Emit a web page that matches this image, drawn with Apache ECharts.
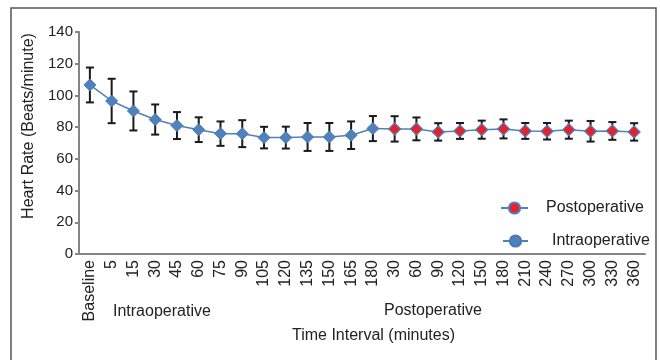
<!DOCTYPE html>
<html>
<head>
<meta charset="utf-8">
<script src="https://cdn.jsdelivr.net/npm/echarts@6/dist/echarts.min.js"></script>
<style>
  html, body { margin: 0; padding: 0; background: #fff; }
  #chart { width: 660px; height: 360px; }
</style>
</head>
<body>
<div id="chart"></div>
<script>
// x categories: intraoperative minutes, then postoperative minutes
const categories = ['Baseline', '5', '15', '30', '45', '60', '75', '90', '105', '120', '135', '150', '165', '180',
  '30', '60', '90', '120', '150', '180', '210', '240', '270', '300', '330', '360'];

// mean heart rate and SD
const intraMean = [106.6, 96.5, 90.2, 84.8, 81, 78.4, 75.9, 75.9, 73.4, 73.4, 73.8, 73.8, 74.9, 79.1];
const intraSd = [11, 14, 12.3, 9.5, 8.5, 7.8, 7.7, 8.5, 6.8, 6.9, 8.8, 8.8, 8.7, 7.9];
const postMean = [78.9, 78.9, 77, 77.6, 78.4, 78.9, 77.6, 77.4, 78.4, 77.4, 77.6, 77];
const postSd = [8, 7.2, 5.5, 5, 5.7, 6, 5, 5.2, 5.7, 6.5, 5.6, 5.5];

const yTicks = [0, 20, 40, 60, 80, 100, 120, 140];

const FONT = 'Liberation Sans, Arial, sans-serif';
const BLUE = '#4f81bd';
const RED = '#e8202a';
const AXIS = '#858585';
const TEXT = '#222';

const chart = echarts.init(document.getElementById('chart'));

const nIntra = intraMean.length;

// intraoperative: diamonds, legend shows circle (series-level symbol)
const intraData = intraMean.map(v => ({ value: v, symbol: 'diamond' }));

// postoperative: starts from last intra point (hidden) so the line connects
const postData = categories.map((_, i) => {
  if (i < nIntra - 1) return null;
  if (i === nIntra - 1) return { value: intraMean[i], symbol: 'none' };
  return { value: postMean[i - nIntra], symbol: 'diamond' };
});

const allMean = intraMean.concat(postMean);
const allSd = intraSd.concat(postSd);
const errData = allMean.map((m, i) => [i, m - allSd[i], m + allSd[i]]);

const option = {
  animation: false,
  textStyle: { fontFamily: FONT },
  grid: { left: 79, right: 15, top: 32, bottom: 106 },
  xAxis: {
    type: 'category',
    data: categories,
    boundaryGap: true,
    axisLine: { lineStyle: { color: AXIS, width: 2 } },
    axisTick: { length: 5, lineStyle: { color: AXIS, width: 2 } },
    axisLabel: {
      rotate: 90,
      interval: 0,
      margin: 6,
      fontSize: 16,
      color: TEXT,
      fontFamily: FONT,
    },
  },
  yAxis: {
    type: 'value',
    min: yTicks[0],
    max: yTicks[yTicks.length - 1],
    interval: 20,
    axisLine: { show: true, lineStyle: { color: AXIS, width: 2 } },
    axisTick: { show: true, length: 4, lineStyle: { color: AXIS, width: 2 } },
    axisLabel: { fontSize: 15, color: TEXT, margin: 6, fontFamily: FONT },
    splitLine: { show: false },
  },
  legend: [
    {
      data: ['Postoperative'],
      left: 495,
      top: 195,
      itemWidth: 27,
      itemHeight: 14,
      textStyle: { fontSize: 16, color: TEXT, fontFamily: FONT, padding: [0, 0, 0, 13] },
    },
    {
      data: ['Intraoperative'],
      left: 497,
      top: 228,
      itemWidth: 25,
      itemHeight: 14,
      textStyle: { fontSize: 16, color: TEXT, fontFamily: FONT, padding: [0, 0, 0, 19] },
    },
  ],
  graphic: [
    {
      type: 'rect',
      shape: { x: 11, y: 8, width: 645, height: 360 },
      style: { fill: 'none', stroke: '#555', lineWidth: 1.5 },
      silent: true,
    },
    {
      type: 'text',
      x: 29,
      y: 126,
      rotation: Math.PI / 2,
      style: {
        text: 'Heart Rate (Beats/minute)',
        fontSize: 16,
        fill: TEXT,
        fontFamily: FONT,
        align: 'center',
        verticalAlign: 'middle',
      },
    },
    {
      type: 'text',
      left: 113,
      top: 304,
      style: { text: 'Intraoperative', fontSize: 16, fill: TEXT, fontFamily: FONT },
    },
    {
      type: 'text',
      left: 384,
      top: 303,
      style: { text: 'Postoperative', fontSize: 16, fill: TEXT, fontFamily: FONT },
    },
    {
      type: 'text',
      left: 292,
      top: 328,
      style: { text: 'Time Interval (minutes)', fontSize: 16, fill: TEXT, fontFamily: FONT },
    },
  ],
  series: [
    {
      name: 'errors',
      type: 'custom',
      z: 1,
      data: errData,
      renderItem: (params, api) => {
        const x = api.value(0);
        const lo = api.coord([x, api.value(1)]);
        const hi = api.coord([x, api.value(2)]);
        const half = 4;
        const style = { stroke: '#1a1a1a', lineWidth: 2 };
        return {
          type: 'group',
          children: [
            { type: 'line', shape: { x1: lo[0], y1: lo[1], x2: hi[0], y2: hi[1] }, style },
            { type: 'line', shape: { x1: lo[0] - half, y1: lo[1], x2: lo[0] + half, y2: lo[1] }, style },
            { type: 'line', shape: { x1: hi[0] - half, y1: hi[1], x2: hi[0] + half, y2: hi[1] }, style },
          ],
        };
      },
    },
    {
      name: 'Postoperative',
      type: 'line',
      z: 3,
      data: postData,
      symbol: 'circle',
      symbolSize: 12,
      connectNulls: false,
      lineStyle: { color: BLUE, width: 1.5 },
      itemStyle: { color: RED, borderColor: BLUE, borderWidth: 1.2 },
    },
    {
      name: 'Intraoperative',
      type: 'line',
      z: 4,
      data: intraData,
      symbol: 'circle',
      symbolSize: 12,
      lineStyle: { color: BLUE, width: 1.5 },
      itemStyle: { color: BLUE, borderColor: '#4a78b0', borderWidth: 1 },
    },
  ],
};

chart.setOption(option);
</script>
</body>
</html>
